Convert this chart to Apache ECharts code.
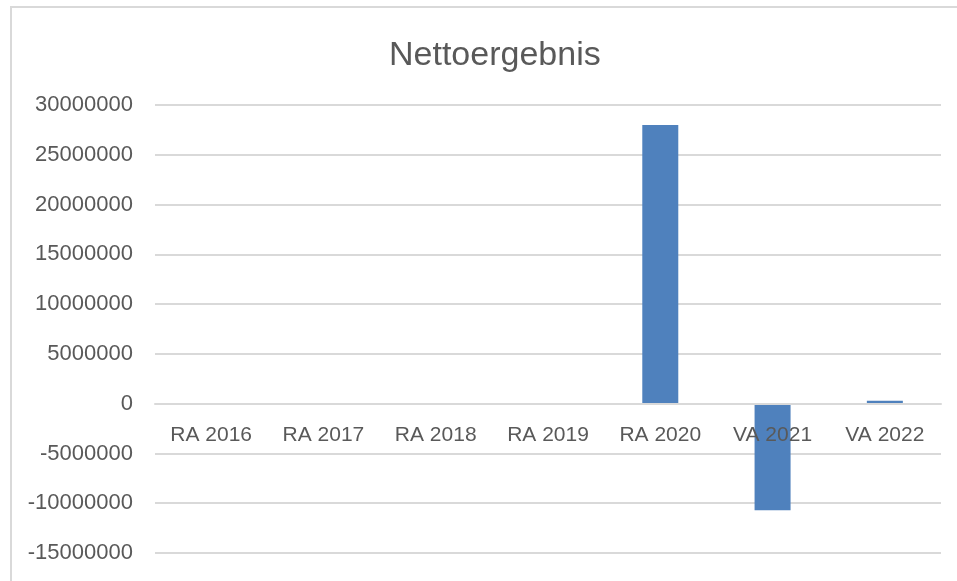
<!DOCTYPE html>
<html>
<head>
<meta charset="utf-8">
<script src="https://cdn.jsdelivr.net/npm/echarts@6/dist/echarts.min.js"></script>
<style>
  html, body { margin: 0; padding: 0; background: #fff; }
  #frame {
    position: absolute; left: 10px; top: 6px; width: 960px; height: 590px;
    border-left: 2px solid #d9d9d9; border-top: 2px solid #d9d9d9;
  }
  #main { position: absolute; left: 0; top: 0; width: 957px; height: 581px; }
</style>
</head>
<body>
<div id="frame"></div>
<div id="main"></div>
<script>
// chart data
const categories = ['RA 2016', 'RA 2017', 'RA 2018', 'RA 2019', 'RA 2020', 'VA 2021', 'VA 2022'];
const nettoergebnis = [0, 0, 0, 0, 28000000, -10700000, 300000];
const yMin = -15000000;
const yMax = 30000000;
const yStep = 5000000;

const chart = echarts.init(document.getElementById('main'));
const textColor = '#595959';
const font = 'Liberation Sans, Arial, sans-serif';

const gridTop = 105;
const gridBottom = 28;
// move the category axis (line and labels) up to the zero line, like Excel does
const plotHeight = 581 - gridTop - gridBottom;
const zeroOffset = -plotHeight * (0 - yMin) / (yMax - yMin);

chart.setOption({
  animation: false,
  title: {
    text: 'Nettoergebnis',
    left: 384,
    top: 34,
    textStyle: { color: textColor, fontSize: 34, fontWeight: 'normal', fontFamily: font }
  },
  grid: { left: 155, right: 16, top: gridTop, bottom: gridBottom, containLabel: false, outerBoundsMode: 'none' },
  xAxis: {
    type: 'category',
    data: categories,
    offset: zeroOffset,
    z: 10, // labels sit on top of the negative bar
    axisLine: { show: true, onZero: false, lineStyle: { color: '#d9d9d9', width: 2 } },
    axisTick: { show: false },
    axisLabel: { color: textColor, fontSize: 21, fontFamily: font, margin: 21 }
  },
  yAxis: {
    type: 'value',
    min: yMin,
    max: yMax,
    interval: yStep,
    axisLine: { show: false },
    axisTick: { show: false },
    splitLine: { lineStyle: { color: '#d9d9d9', width: 2 } },
    axisLabel: { color: textColor, fontSize: 22, fontFamily: font, margin: 22, formatter: v => String(v) }
  },
  series: [{
    name: 'Nettoergebnis',
    type: 'bar',
    data: nettoergebnis,
    barWidth: 36,
    itemStyle: { color: '#4f81bd' }
  }]
});
</script>
</body>
</html>
